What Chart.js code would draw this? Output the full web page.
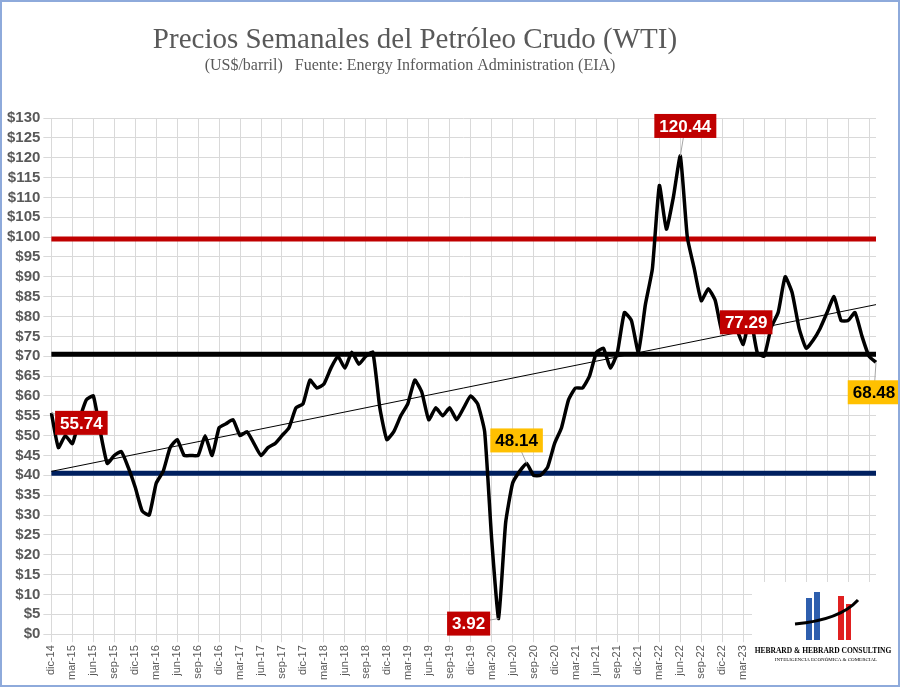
<!DOCTYPE html>
<html>
<head>
<meta charset="utf-8">
<script src="https://cdn.jsdelivr.net/npm/chart.js@4/dist/chart.umd.min.js"></script>
<style>
  body { margin: 0; background: #fff; }
  #wrap { width: 900px; height: 687px; position: relative; }
</style>
</head>
<body>
<div id="wrap"><canvas id="c" width="900" height="687"></canvas></div>
<script>
// Meses (dic-14 .. oct-24)
const monthNames = ['ene','feb','mar','abr','may','jun','jul','ago','sep','oct','nov','dic'];
const months = [];
for (let y = 2014, m = 11; !(y === 2024 && m === 10); m++) {
    if (m === 12) { m = 0; y++; }
    months.push(monthNames[m] + '-' + String(y).slice(2));
    if (y === 2024 && m === 9) break;
}

// Precio WTI (US$/barril)
const wtiPrices = [
    55.74,
    47, 50, 48, 54, 59, 60, 51, 43, 45, 46, 42, 37,
    31, 30, 38, 41, 47, 49, 45, 45, 45, 50, 45, 52,
    53, 54, 50, 51, 48, 45, 47, 48, 50, 52, 57, 58,
    64, 62, 63, 67, 70, 67, 71, 68, 70, 71, 57, 49,
    51, 55, 58, 64, 61, 54, 57, 55, 57, 54, 57, 60,
    58, 51, 24, 3.92, 28, 38, 41, 43, 40, 40, 42, 48,
    52, 59, 62, 62, 65, 71, 72, 67, 71, 81, 79, 71,
    83, 92, 113, 102, 110, 120.44, 100, 92, 84, 87, 84, 76,
    78, 77, 73, 80, 71, 70, 77.29, 81, 90, 86, 77, 72,
    74, 77, 81, 85, 79, 79, 81, 75, 70, 68.48
];

// Línea de tendencia (extremos)
const trendStart = 41;
const trendEnd = 83;

// Niveles de referencia
const refLevels = [99.5, 70.5, 40.5];
const refColors = ['#c00000', '#000000', '#002060'];

// Etiquetas destacadas: [índice, texto, tipo]
const callouts = [
    [0, '55.74', 'red', 30, 10],
    [90, '120.44', 'red', 5, -30],
    [103, '77.29', 'red', -25, -5],
    [64, '3.92', 'red', -30, 5],
    [68, '48.14', 'orange', -10, -23],
    [months.length - 1, '68.48', 'orange', -2, 30]
];

const yTicks = [];
for (let v = 0; v <= 130; v += 5) yTicks.push(v);

const trendData = months.map((_, i) => i === 0 ? trendStart : (i === months.length - 1 ? trendEnd : null));

const decor = {
    id: 'decor',
    beforeDatasetsDraw(chart) {
        const { ctx, chartArea, scales } = chart;
        ctx.save();
        refLevels.forEach((lv, i) => {
            const y = scales.y.getPixelForValue(lv);
            ctx.strokeStyle = refColors[i];
            ctx.lineWidth = 5;
            ctx.beginPath();
            ctx.moveTo(chartArea.left, y);
            ctx.lineTo(chartArea.right, y);
            ctx.stroke();
        });
        ctx.restore();
    },
    afterDraw(chart) {
        const { ctx, scales } = chart;
        ctx.save();
        // título
        ctx.textAlign = 'center';
        ctx.fillStyle = '#595959';
        ctx.font = '29px "Liberation Serif", serif';
        ctx.fillText('Precios Semanales del Petróleo Crudo (WTI)', 415, 48);
        ctx.font = '16px "Liberation Serif", serif';
        ctx.fillText('(US$/barril)   Fuente: Energy Information Administration (EIA)', 410, 70);

        // etiquetas
        ctx.font = 'bold 17px "Liberation Sans", Arial, sans-serif';
        callouts.forEach(([i, txt, kind, dx, dy]) => {
            const px = scales.x.getPixelForValue(i);
            const py = scales.y.getPixelForValue(wtiPrices[i]);
            const w = ctx.measureText(txt).width + 10, h = 24;
            const cx = px + dx, cy = py + dy;
            ctx.strokeStyle = '#a6a6a6';
            ctx.lineWidth = 1;
            ctx.beginPath();
            ctx.moveTo(px, py);
            ctx.lineTo(cx, cy);
            ctx.stroke();
            ctx.fillStyle = kind === 'red' ? '#c00000' : '#ffc000';
            ctx.fillRect(cx - w / 2, cy - h / 2, w, h);
            ctx.fillStyle = kind === 'red' ? '#ffffff' : '#000000';
            ctx.textBaseline = 'middle';
            ctx.fillText(txt, cx, cy + 1);
        });

        // logo
        ctx.fillStyle = '#ffffff';
        ctx.fillRect(752, 582, 145, 100);
        ctx.fillStyle = '#2e5fae';
        ctx.fillRect(806, 598, 6, 42);
        ctx.fillRect(814, 592, 6, 48);
        ctx.fillStyle = '#e02020';
        ctx.fillRect(838, 596, 6, 44);
        ctx.fillRect(846, 604, 5, 36);
        ctx.strokeStyle = '#000';
        ctx.lineWidth = 3;
        ctx.beginPath();
        ctx.moveTo(795, 624);
        ctx.quadraticCurveTo(840, 620, 858, 600);
        ctx.stroke();
        ctx.fillStyle = '#000';
        ctx.textBaseline = 'alphabetic';
        ctx.font = 'bold 7.5px "Liberation Serif", serif';
        ctx.fillText('HEBRARD & HEBRARD CONSULTING', 823, 653);
        ctx.font = '5px "Liberation Serif", serif';
        ctx.fillText('INTELIGENCIA ECONÓMICA & COMERCIAL', 826, 661);

        // marco
        ctx.strokeStyle = '#8eaadb';
        ctx.lineWidth = 2;
        ctx.strokeRect(1, 1, 898, 685);
        ctx.restore();
    }
};

new Chart(document.getElementById('c'), {
    type: 'line',
    data: {
        labels: months,
        datasets: [
            {
                data: wtiPrices,
                borderColor: '#000000',
                borderWidth: 3.5,
                pointRadius: 0,
                tension: 0.15
            },
            {
                data: trendData,
                borderColor: '#000000',
                borderWidth: 1,
                pointRadius: 0,
                spanGaps: true
            }
        ]
    },
    options: {
        responsive: false,
        animation: false,
        layout: { padding: { top: 118, right: 24, left: 4, bottom: 4 } },
        plugins: { legend: { display: false }, tooltip: { enabled: false } },
        scales: {
            x: {
                offset: false,
                grid: { color: c => c.index % 3 === 0 ? '#d9d9d9' : 'rgba(0,0,0,0)' },
                border: { color: '#d9d9d9' },
                ticks: {
                    autoSkip: false,
                    maxRotation: 90,
                    minRotation: 90,
                    color: '#595959',
                    font: { size: 11, family: '"Liberation Sans", Arial' },
                    callback: (v, i) => i % 3 === 0 ? months[i] : ''
                }
            },
            y: {
                min: 0,
                max: 130,
                afterBuildTicks: s => { s.ticks = yTicks.map(v => ({ value: v })); },
                grid: { color: '#d9d9d9' },
                border: { display: false },
                ticks: {
                    autoSkip: false,
                    color: '#595959',
                    font: { size: 15, weight: 'bold', family: '"Liberation Sans", Arial' },
                    callback: v => '$' + v
                }
            }
        }
    },
    plugins: [decor]
});
</script>
</body>
</html>
